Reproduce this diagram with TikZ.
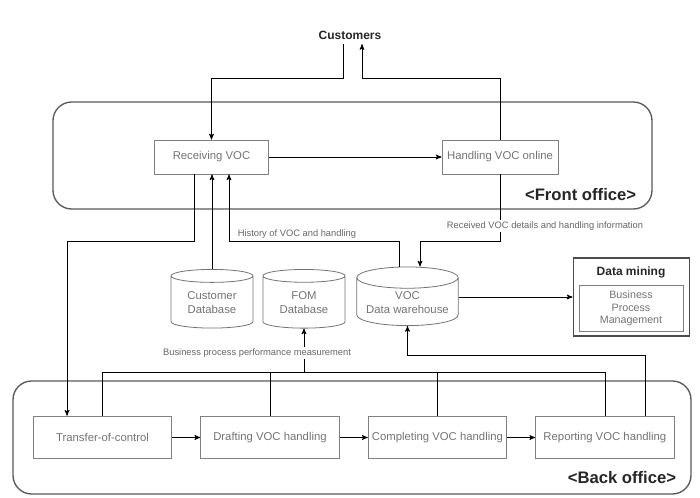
\documentclass[tikz,border=0pt]{standalone}
\usepackage{fontspec}
\setmainfont{Liberation Sans}
\usetikzlibrary{arrows,shapes.geometric,positioning}

\begin{document}
\begin{tikzpicture}[>=stealth',x=0.75pt,y=-0.75pt,line width=0.6pt,
        proc/.style={rectangle,draw=gray,text=gray!90!black,font=\fontsize{8.5}{10}\selectfont,
          minimum width=104pt,minimum height=32pt,inner sep=1pt},
        db/.style={cylinder,shape border rotate=90,aspect=0.25,draw=gray!90!black,text=gray!90!black,
          font=\fontsize{8.5}{10.5}\selectfont,align=center,minimum width=61.5pt,minimum height=44pt,inner sep=1pt},
        lbl/.style={font=\fontsize{7}{8}\selectfont,text=gray!80!black,inner sep=1.5pt},
        head/.style={font=\fontsize{9}{11}\bfseries,text=black!85},
        title/.style={font=\fontsize{12.5}{14}\bfseries,text=black!85},
        office/.style={draw=gray!70!black,line width=1pt,rounded corners=14pt},
        dmbox/.style={rectangle,draw=gray!60!black,line width=1.4pt,minimum width=87pt,minimum height=59pt}]
  \useasboundingbox (0,0) rectangle (700,497);

  \draw[office] (53,102) rectangle (652,209);
  \draw[office] (13,381) rectangle (691,494);
  \node[title,anchor=east] (fo) at (641,195) {<Front office>};
  \node[title,anchor=east] (bo) at (681,478) {<Back office>};

  \node[head] (cust) at (350,35) {Customers};
  \node[proc,minimum width=86pt,minimum height=25.5pt] (recv) at (211.5,157) {Receiving VOC};
  \node[proc,minimum width=87pt,minimum height=25.5pt] (hand) at (500,157) {Handling VOC online};

  \node[db] (cdb) at (212,303) {Customer\\Database};
  \node[db] (fom) at (304,303) {FOM\\Database};
  \node[db,minimum width=76pt] (vdw) at (407.5,303) {VOC\\Data warehouse};

  \node[dmbox] (dm) at (631.5,297) {};
  \node[head] (dmt) at (631,272) {Data mining};
  \node[proc,minimum width=78pt,minimum height=35pt,align=center,
        font=\fontsize{8}{9.5}\selectfont] (bpmgt) at (631,308.5) {Business\\Process\\Management};

  \node[proc] (trans) at (102.5,437.5) {Transfer-of-control};
  \node[proc,right=21pt of trans] (draft) {Drafting VOC handling};
  \node[proc,right=21pt of draft] (comp) {Completing VOC handling};
  \node[proc,right=21pt of comp] (rep) {Reporting VOC handling};

  \coordinate (top) at (0,78);
  \coordinate (mid) at (0,241);
  \coordinate (ret) at (0,355);
  \coordinate (bus) at (0,372);

  \draw[->] ([xshift=-5.25pt]cust.south) -- ([xshift=-5.25pt]cust.south |- top) -| (recv.north);
  \draw[->] (hand.north) -- (hand.north |- top) -| ([xshift=9pt]cust.south);
  \path[->] (recv) edge (hand);

  \draw[->] ([xshift=-13.1pt]recv.south) -- ([xshift=-13.1pt]recv.south |- mid) -| ([xshift=-26.6pt]trans.north);
  \draw[->] (cdb.north) -- (cdb.north |- recv.south);
  \draw[->] ([xshift=-6.4pt]vdw.north) -- ([xshift=-6.4pt]vdw.north |- mid)
    -| node[lbl,above,pos=0.3] {History of VOC and handling} ([xshift=13.1pt]recv.south);
  \draw[->] (hand.south) -- (hand.south |- mid) -| ([xshift=9.4pt]vdw.north);
  \node[lbl,fill=white] (rcv) at (545,226) {Received VOC details and handling information};

  \draw[->] (vdw.east |- dm.west) -- (dm.west);

  \path[->] (trans) edge (draft)
            (draft) edge (comp)
            (comp) edge (rep);

  \foreach \b in {trans,draft,comp,rep}
    \draw (\b.north) -- (\b.north |- bus);
  \draw (trans.north |- bus) -- (rep.north |- bus);
  \draw[->] (fom.south |- bus) -- (fom.south);
  \node[lbl,fill=white] (bpm) at (257,353) {Business process performance measurement};

  \draw[->] ([xshift=30.4pt]rep.north) -- ([xshift=30.4pt]rep.north |- ret) -| (vdw.south);
\end{tikzpicture}
\end{document}
